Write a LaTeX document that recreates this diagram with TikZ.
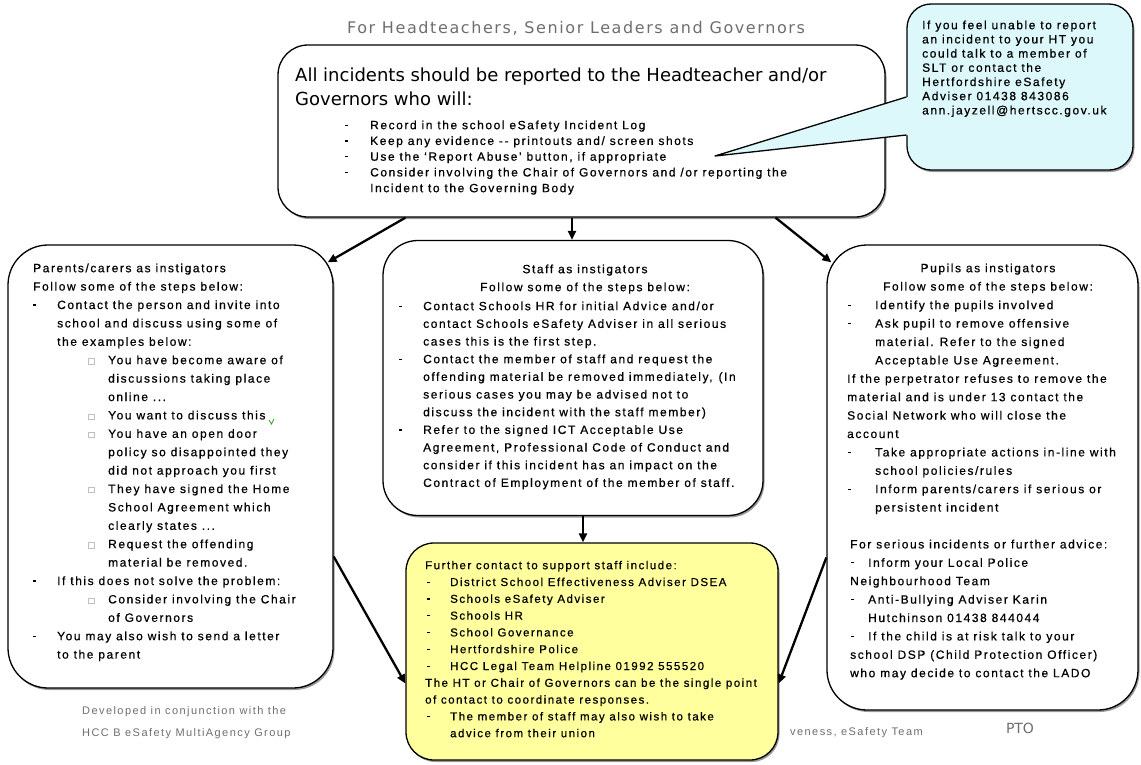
\documentclass[tikz,border=0pt]{standalone}
\usepackage{fontspec}
\setmainfont{Liberation Sans}
\newfontfamily\bodyf[LetterSpace=13,FakeBold=0.6]{Liberation Sans}
\newfontfamily\footf[LetterSpace=13]{Liberation Sans}
\newfontfamily\headf{DejaVu Sans}
\newfontfamily\subf[LetterSpace=10]{DejaVu Sans}
\usetikzlibrary{arrows.meta,shadows}
\definecolor{callcyan}{RGB}{221,248,250}
\definecolor{notey}{RGB}{255,255,158}
\definecolor{footgray}{RGB}{110,110,110}
\definecolor{chkgreen}{RGB}{40,160,40}
\newcommand\bdash{\rule[0.28em]{3pt}{1.2pt}}
\newcommand\bsq{\raisebox{0.05em}{\color{gray!50}\setlength\fboxsep{0pt}\setlength\fboxrule{0.7pt}\fbox{\rule{0pt}{4.5pt}\hspace{5pt}}}}
\newcommand\mk[2]{\makebox[0pt][l]{\hspace*{#1pt}#2}}
\newcommand\sk[1]{\hspace*{#1pt}}
\newcommand\fl{\rule{0pt}{10pt}}
\begin{document}
\begin{tikzpicture}[x=1pt,y=-1pt,
  box/.style={draw=black, line width=1.3pt, fill=white, rounded corners=#1, inner sep=0pt,
    drop shadow={shadow xshift=1.5pt, shadow yshift=-2pt, fill=black!40, opacity=1}},
  txt/.style={anchor=north west, inner sep=0pt, align=left},
  ctxt/.style={anchor=north, inner sep=0pt, align=center},
  arr/.style={line width=2.3pt, -{Triangle[length=9pt,width=8pt]}}]
\useasboundingbox (0,0) rectangle (1141,764);

% subtitle
\node[anchor=base, inner sep=0pt, text=footgray, font=\subf\fontsize{16}{18}\selectfont] (subtitle) at (576,33) {For Headteachers, Senior Leaders and Governors};

% top box and callout
\node[box=30pt, minimum width=607pt, minimum height=172pt] (top) at (581.5,131) {};
\node[box=24pt, fill=callcyan, minimum width=226pt, minimum height=166pt] (call) at (1020,87) {};
\coordinate (tip) at (715,156);
\fill[callcyan] ([yshift=-10pt]call.west) -- (tip) -- ([yshift=-48pt]call.west) -- ([xshift=3pt,yshift=-48pt]call.west) -- ([xshift=3pt,yshift=-10pt]call.west) -- cycle;
\draw[line width=1.3pt, line join=round] ([yshift=-10pt]call.west) -- (tip) -- ([yshift=-48pt]call.west);

% other boxes
\node[box=40pt, minimum width=325pt, minimum height=443pt] (left) at (170.5,466.5) {};
\node[box=35pt, minimum width=380pt, minimum height=275pt] (mid) at (573,378) {};
\node[box=40pt, minimum width=311pt, minimum height=465pt] (right) at (982.5,477.5) {};

% footer
\node[txt, text=footgray, font=\footf\fontsize{11}{22}\selectfont] (footl) at (82,704) {\fl Developed in conjunction with the\\HCC B eSafety MultiAgency Group};
\node[anchor=base west, inner sep=0pt, text=footgray, font=\footf\fontsize{11}{22}\selectfont] (footr) at (790,735) {veness, eSafety Team};
\node[anchor=base, inner sep=0pt, text=footgray, font=\headf\fontsize{14}{16}\selectfont] (pto) at (1020,733) {PTO};

% yellow box
\node[box=28pt, fill=notey, minimum width=372pt, minimum height=217pt] (yel) at (592,651.5) {};

% texts
\node[txt, font=\headf\fontsize{18}{24}\selectfont] (toph) at (295,66) {\rule{0pt}{15pt}All incidents should be reported to the Headteacher and/or\\Governors who will:};
\node[txt, font=\bodyf\fontsize{12}{15.75}\selectfont] (topl) at (345,119) {%
\fl\mk{0}{\bdash}\sk{25}Record in the school eSafety Incident Log\\
\mk{0}{\bdash}\sk{25}Keep any evidence -- printouts and/ screen shots\\
\mk{0}{\bdash}\sk{25}Use the ‘Report Abuse’ button, if appropriate\\
\mk{0}{\bdash}\sk{25}Consider involving the Chair of Governors and /or reporting the\\
\sk{25}Incident to the Governing Body};

\node[txt, font=\bodyf\fontsize{12}{14.2}\selectfont] (callt) at (922,19) {\fl If you feel unable to report\\an incident to your HT you\\could talk to a member of\\SLT or contact the\\Hertfordshire eSafety\\Adviser 01438 843086\\ann.jayzell@hertscc.gov.uk};

\node[txt, font=\bodyf\fontsize{12}{18.4}\selectfont] (leftt) at (33,262) {%
\fl Parents/carers as instigators\\
Follow some of the steps below:\\
\mk{0}{\bdash}\sk{24}Contact the person and invite into\\
\sk{24}school and discuss using some of\\
\sk{24}the examples below:\\
\mk{55}{\bsq}\sk{75}You have become aware of\\
\sk{75}discussions taking place\\
\sk{75}online ...\\
\mk{55}{\bsq}\sk{75}You want to discuss this\\
\mk{55}{\bsq}\sk{75}You have an open door\\
\sk{75}policy so disappointed they\\
\sk{75}did not approach you first\\
\mk{55}{\bsq}\sk{75}They have signed the Home\\
\sk{75}School Agreement which\\
\sk{75}clearly states ...\\
\mk{55}{\bsq}\sk{75}Request the offending\\
\sk{75}material be removed.\\
\mk{0}{\bdash}\sk{24}If this does not solve the problem:\\
\mk{55}{\bsq}\sk{75}Consider involving the Chair\\
\sk{75}of Governors\\
\mk{0}{\bdash}\sk{24}You may also wish to send a letter\\
\sk{24}to the parent};
\draw[chkgreen, line width=0.8pt] (269,420) -- (271.5,424) -- (274,419);

\node[ctxt, font=\bodyf\fontsize{12}{18}\selectfont] (midh) at (585,263) {\fl Staff as instigators\\Follow some of the steps below:};
\node[txt, font=\bodyf\fontsize{12}{17.67}\selectfont] (midt) at (399,300) {%
\fl\mk{0}{\bdash}\sk{24}Contact Schools HR for initial Advice and/or\\
\sk{24}contact Schools eSafety Adviser in all serious\\
\sk{24}cases this is the first step.\\
\mk{0}{\bdash}\sk{24}Contact the member of staff and request the\\
\sk{24}offending material be removed immediately,\enspace(In\\
\sk{24}serious cases you may be advised not to\\
\sk{24}discuss the incident with the staff member)\\
\mk{0}{\bdash}\sk{24}Refer to the signed ICT Acceptable Use\\
\sk{24}Agreement, Professional Code of Conduct and\\
\sk{24}consider if this incident has an impact on the\\
\sk{24}Contract of Employment of the member of staff.};

\node[ctxt, font=\bodyf\fontsize{12}{18.4}\selectfont] (righth) at (988,262) {\fl Pupils as instigators\\Follow some of the steps below:};
\node[txt, font=\bodyf\fontsize{12}{18.4}\selectfont] (rightt) at (847,299) {%
\fl\mk{1}{\bdash}\sk{28}Identify the pupils involved\\
\mk{1}{\bdash}\sk{28}Ask pupil to remove offensive\\
\sk{28}material.\enspace Refer to the signed\\
\sk{28}Acceptable Use Agreement.\\
If the perpetrator refuses to remove the\\
material and is under 13 contact the\\
Social Network who will close the\\
account\\
\mk{1}{\bdash}\sk{28}Take appropriate actions in-line with\\
\sk{28}school policies/rules\\
\mk{1}{\bdash}\sk{28}Inform parents/carers if serious or\\
\sk{28}persistent incident\\[18.4pt]
\sk{3}For serious incidents or further advice:\\
\mk{4}{\bdash}\sk{21}Inform your Local Police\\
\sk{3}Neighbourhood Team\\
\mk{4}{\bdash}\sk{21}Anti-Bullying Adviser Karin\\
\sk{21}Hutchinson 01438 844044\\
\mk{4}{\bdash}\sk{21}If the child is at risk talk to your\\
\sk{3}school DSP (Child Protection Officer)\\
\sk{3}who may decide to contact the LADO};

\node[txt, font=\bodyf\fontsize{11.5}{16.8}\selectfont] (yelt) at (425,559) {%
\fl Further contact to support staff include:\\
\mk{2}{\bdash}\sk{25}District School Effectiveness Adviser DSEA\\
\mk{2}{\bdash}\sk{25}Schools eSafety Adviser\\
\mk{2}{\bdash}\sk{25}Schools HR\\
\mk{2}{\bdash}\sk{25}School Governance\\
\mk{2}{\bdash}\sk{25}Hertfordshire Police\\
\mk{2}{\bdash}\sk{25}HCC Legal Team Helpline 01992 555520\\
The HT or Chair of Governors can be the single point\\
of contact to coordinate responses.\\
\mk{2}{\bdash}\sk{25}The member of staff may also wish to take\\
\sk{25}advice from their union};

% connectors
\draw[arr] ([xshift=-176pt]top.south) -- ([xshift=-6pt,yshift=-18pt]left.north east);
\draw[arr] ([xshift=-9.5pt]top.south) -- ([xshift=-1pt]mid.north);
\draw[arr] ([xshift=194pt]top.south) -- ([xshift=5pt,yshift=-18pt]right.north west);
\draw[arr] ([xshift=10pt]mid.south) -- ([xshift=-9pt]yel.north);
\draw[arr] ([yshift=-90pt]left.east) -- ([yshift=-32pt]yel.west);
\draw[arr] ([yshift=-80pt]right.west) -- ([yshift=-32pt]yel.east);
\end{tikzpicture}
\end{document}
